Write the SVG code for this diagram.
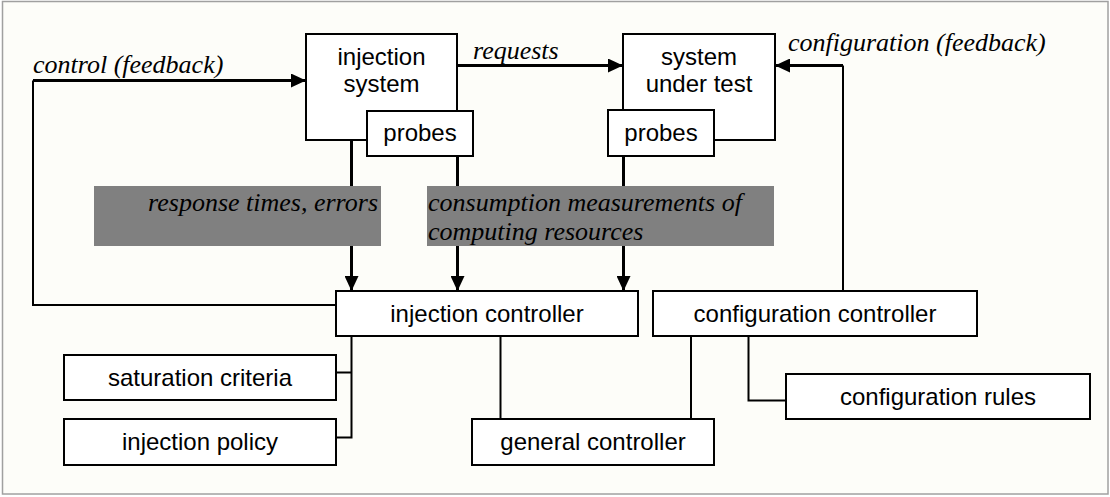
<svg xmlns="http://www.w3.org/2000/svg" width="1110" height="497" viewBox="0 0 1110 497">
<defs>
<style>
.box{fill:#ffffff;stroke:#000;stroke-width:2}
.gray{fill:#808080;stroke:none}
.sans{font-family:"Liberation Sans",Arial,sans-serif;font-size:24px;fill:#000;text-anchor:middle}
.ital{font-family:"Liberation Serif","Times New Roman",serif;font-size:26px;font-style:italic;fill:#000}
.thick{fill:none;stroke:#000;stroke-width:3}
.thin{fill:none;stroke:#000;stroke-width:2}
</style>
<marker id="ah" markerUnits="userSpaceOnUse" markerWidth="16" markerHeight="14" refX="15" refY="7" orient="auto">
<path d="M0,0 L15,7 L0,14 Z" fill="#000"/>
</marker>
</defs>
<rect x="0" y="0" width="1110" height="497" fill="#ffffff"/>
<rect x="2.5" y="1.5" width="1105.5" height="492.5" fill="#fdfdf9" stroke="#a0a0a0" stroke-width="1.5"/>

<g id="connectors">
<path class="thin" d="M336,305 H33 V80.5"/>
<path class="thick" d="M33,80.5 H306" marker-end="url(#ah)"/>
<path class="thick" d="M457,65.5 H623" marker-end="url(#ah)"/>
<path class="thin" d="M843,291 V65.5"/>
<path class="thick" d="M843,65.5 H775" marker-end="url(#ah)"/>
<path class="thick" d="M351.5,140 V291" marker-end="url(#ah)"/>
<path class="thick" d="M457.5,156 V291" marker-end="url(#ah)"/>
<path class="thick" d="M623.5,156 V291" marker-end="url(#ah)"/>
<path class="thin" d="M351.5,336 V437.5 H336 M336,372.5 H351.5"/>
<path class="thin" d="M500.5,336 V419"/>
<path class="thin" d="M691,336 V419"/>
<path class="thin" d="M748.5,336 V400.5 H786"/>
</g>

<g id="label-response">
<rect class="gray" x="94" y="186" width="287" height="60"/>
<text class="ital" x="378" y="211" text-anchor="end">response times, errors</text>
</g>
<g id="label-consumption">
<rect class="gray" x="427" y="186" width="347" height="60"/>
<text class="ital" x="428" y="211">consumption measurements of</text>
<text class="ital" x="428" y="240">computing resources</text>
</g>

<g id="label-control"><text class="ital" x="33" y="73">control (feedback)</text></g>
<g id="label-requests"><text class="ital" x="473" y="59">requests</text></g>
<g id="label-configuration"><text class="ital" x="788" y="51">configuration (feedback)</text></g>

<g id="injection-system">
<rect class="box" x="306" y="34" width="151" height="106"/>
<text class="sans" x="381.5" y="65">injection</text>
<text class="sans" x="381.5" y="92">system</text>
</g>
<g id="injection-probes">
<rect class="box" x="367" y="111" width="106" height="45"/>
<text class="sans" x="420" y="141">probes</text>
</g>
<g id="system-under-test">
<rect class="box" x="623" y="34" width="152" height="106"/>
<text class="sans" x="699" y="65">system</text>
<text class="sans" x="699" y="92">under test</text>
</g>
<g id="sut-probes">
<rect class="box" x="608" y="110" width="106" height="46"/>
<text class="sans" x="661" y="141">probes</text>
</g>
<g id="injection-controller">
<rect class="box" x="336" y="291" width="302" height="45"/>
<text class="sans" x="487" y="322">injection controller</text>
</g>
<g id="configuration-controller">
<rect class="box" x="653" y="291" width="324" height="45"/>
<text class="sans" x="815" y="322">configuration controller</text>
</g>
<g id="saturation-criteria">
<rect class="box" x="64" y="355" width="272" height="45"/>
<text class="sans" x="200" y="386">saturation criteria</text>
</g>
<g id="injection-policy">
<rect class="box" x="64" y="419" width="272" height="46"/>
<text class="sans" x="200" y="450">injection policy</text>
</g>
<g id="general-controller">
<rect class="box" x="472" y="419" width="242" height="46"/>
<text class="sans" x="593" y="450">general controller</text>
</g>
<g id="configuration-rules">
<rect class="box" x="786" y="374" width="304" height="45"/>
<text class="sans" x="938" y="405">configuration rules</text>
</g>
</svg>
